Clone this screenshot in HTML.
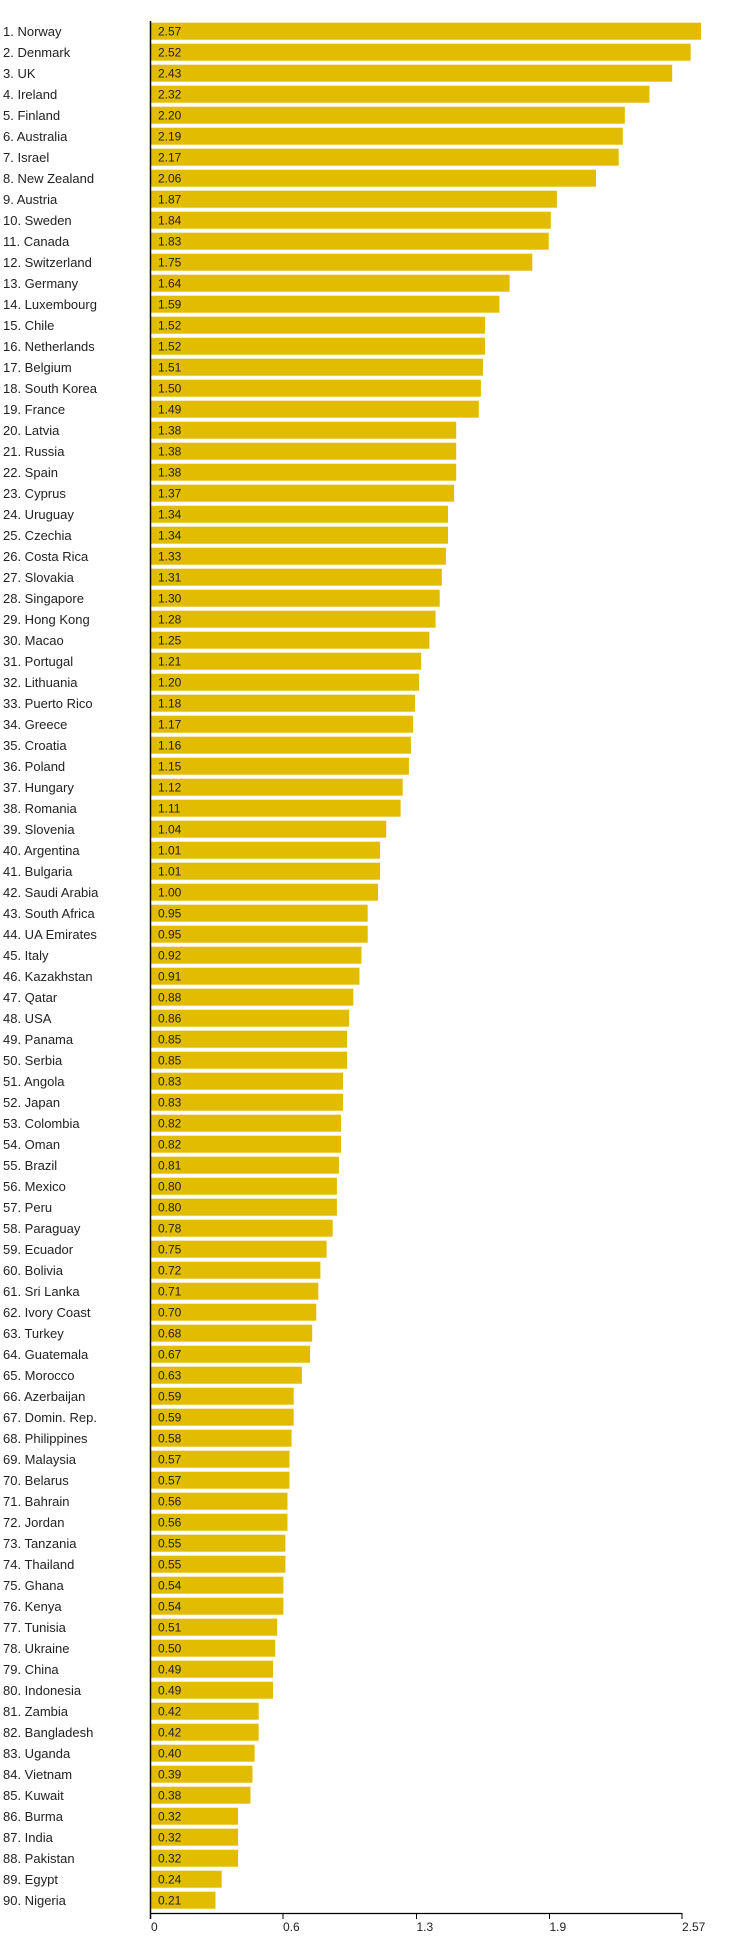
<!DOCTYPE html>
<html><head><meta charset="utf-8"><style>
html,body{margin:0;padding:0;background:#fff}
svg{display:block}
text{font-family:"Liberation Sans",Arial,sans-serif;fill:#222}
.l{font-size:13px}
.v{font-size:12px}
rect{fill:#e2bc00}
</style></head><body>
<svg width="750" height="1947" viewBox="0 0 750 1947" xmlns="http://www.w3.org/2000/svg">
<g transform="translate(0,22.7)"><text class="l" x="3" y="13.5">1. Norway</text><rect x="151" width="550" height="17"/><text class="v" x="158" y="13">2.57</text></g>
<g transform="translate(0,43.7)"><text class="l" x="3" y="13.5">2. Denmark</text><rect x="151" width="539.7" height="17"/><text class="v" x="158" y="13">2.52</text></g>
<g transform="translate(0,64.7)"><text class="l" x="3" y="13.5">3. UK</text><rect x="151" width="521.2" height="17"/><text class="v" x="158" y="13">2.43</text></g>
<g transform="translate(0,85.7)"><text class="l" x="3" y="13.5">4. Ireland</text><rect x="151" width="498.5" height="17"/><text class="v" x="158" y="13">2.32</text></g>
<g transform="translate(0,106.7)"><text class="l" x="3" y="13.5">5. Finland</text><rect x="151" width="473.8" height="17"/><text class="v" x="158" y="13">2.20</text></g>
<g transform="translate(0,127.7)"><text class="l" x="3" y="13.5">6. Australia</text><rect x="151" width="471.8" height="17"/><text class="v" x="158" y="13">2.19</text></g>
<g transform="translate(0,148.7)"><text class="l" x="3" y="13.5">7. Israel</text><rect x="151" width="467.7" height="17"/><text class="v" x="158" y="13">2.17</text></g>
<g transform="translate(0,169.7)"><text class="l" x="3" y="13.5">8. New Zealand</text><rect x="151" width="445" height="17"/><text class="v" x="158" y="13">2.06</text></g>
<g transform="translate(0,190.7)"><text class="l" x="3" y="13.5">9. Austria</text><rect x="151" width="405.9" height="17"/><text class="v" x="158" y="13">1.87</text></g>
<g transform="translate(0,211.7)"><text class="l" x="3" y="13.5">10. Sweden</text><rect x="151" width="399.8" height="17"/><text class="v" x="158" y="13">1.84</text></g>
<g transform="translate(0,232.7)"><text class="l" x="3" y="13.5">11. Canada</text><rect x="151" width="397.7" height="17"/><text class="v" x="158" y="13">1.83</text></g>
<g transform="translate(0,253.7)"><text class="l" x="3" y="13.5">12. Switzerland</text><rect x="151" width="381.3" height="17"/><text class="v" x="158" y="13">1.75</text></g>
<g transform="translate(0,274.7)"><text class="l" x="3" y="13.5">13. Germany</text><rect x="151" width="358.6" height="17"/><text class="v" x="158" y="13">1.64</text></g>
<g transform="translate(0,295.7)"><text class="l" x="3" y="13.5">14. Luxembourg</text><rect x="151" width="348.4" height="17"/><text class="v" x="158" y="13">1.59</text></g>
<g transform="translate(0,316.7)"><text class="l" x="3" y="13.5">15. Chile</text><rect x="151" width="334" height="17"/><text class="v" x="158" y="13">1.52</text></g>
<g transform="translate(0,337.7)"><text class="l" x="3" y="13.5">16. Netherlands</text><rect x="151" width="334" height="17"/><text class="v" x="158" y="13">1.52</text></g>
<g transform="translate(0,358.7)"><text class="l" x="3" y="13.5">17. Belgium</text><rect x="151" width="331.9" height="17"/><text class="v" x="158" y="13">1.51</text></g>
<g transform="translate(0,379.7)"><text class="l" x="3" y="13.5">18. South Korea</text><rect x="151" width="329.9" height="17"/><text class="v" x="158" y="13">1.50</text></g>
<g transform="translate(0,400.7)"><text class="l" x="3" y="13.5">19. France</text><rect x="151" width="327.8" height="17"/><text class="v" x="158" y="13">1.49</text></g>
<g transform="translate(0,421.7)"><text class="l" x="3" y="13.5">20. Latvia</text><rect x="151" width="305.2" height="17"/><text class="v" x="158" y="13">1.38</text></g>
<g transform="translate(0,442.7)"><text class="l" x="3" y="13.5">21. Russia</text><rect x="151" width="305.2" height="17"/><text class="v" x="158" y="13">1.38</text></g>
<g transform="translate(0,463.7)"><text class="l" x="3" y="13.5">22. Spain</text><rect x="151" width="305.2" height="17"/><text class="v" x="158" y="13">1.38</text></g>
<g transform="translate(0,484.7)"><text class="l" x="3" y="13.5">23. Cyprus</text><rect x="151" width="303.1" height="17"/><text class="v" x="158" y="13">1.37</text></g>
<g transform="translate(0,505.7)"><text class="l" x="3" y="13.5">24. Uruguay</text><rect x="151" width="297" height="17"/><text class="v" x="158" y="13">1.34</text></g>
<g transform="translate(0,526.7)"><text class="l" x="3" y="13.5">25. Czechia</text><rect x="151" width="297" height="17"/><text class="v" x="158" y="13">1.34</text></g>
<g transform="translate(0,547.7)"><text class="l" x="3" y="13.5">26. Costa Rica</text><rect x="151" width="294.9" height="17"/><text class="v" x="158" y="13">1.33</text></g>
<g transform="translate(0,568.7)"><text class="l" x="3" y="13.5">27. Slovakia</text><rect x="151" width="290.8" height="17"/><text class="v" x="158" y="13">1.31</text></g>
<g transform="translate(0,589.7)"><text class="l" x="3" y="13.5">28. Singapore</text><rect x="151" width="288.7" height="17"/><text class="v" x="158" y="13">1.30</text></g>
<g transform="translate(0,610.7)"><text class="l" x="3" y="13.5">29. Hong Kong</text><rect x="151" width="284.6" height="17"/><text class="v" x="158" y="13">1.28</text></g>
<g transform="translate(0,631.7)"><text class="l" x="3" y="13.5">30. Macao</text><rect x="151" width="278.4" height="17"/><text class="v" x="158" y="13">1.25</text></g>
<g transform="translate(0,652.7)"><text class="l" x="3" y="13.5">31. Portugal</text><rect x="151" width="270.2" height="17"/><text class="v" x="158" y="13">1.21</text></g>
<g transform="translate(0,673.7)"><text class="l" x="3" y="13.5">32. Lithuania</text><rect x="151" width="268.1" height="17"/><text class="v" x="158" y="13">1.20</text></g>
<g transform="translate(0,694.7)"><text class="l" x="3" y="13.5">33. Puerto Rico</text><rect x="151" width="264" height="17"/><text class="v" x="158" y="13">1.18</text></g>
<g transform="translate(0,715.7)"><text class="l" x="3" y="13.5">34. Greece</text><rect x="151" width="262" height="17"/><text class="v" x="158" y="13">1.17</text></g>
<g transform="translate(0,736.7)"><text class="l" x="3" y="13.5">35. Croatia</text><rect x="151" width="259.9" height="17"/><text class="v" x="158" y="13">1.16</text></g>
<g transform="translate(0,757.7)"><text class="l" x="3" y="13.5">36. Poland</text><rect x="151" width="257.9" height="17"/><text class="v" x="158" y="13">1.15</text></g>
<g transform="translate(0,778.7)"><text class="l" x="3" y="13.5">37. Hungary</text><rect x="151" width="251.7" height="17"/><text class="v" x="158" y="13">1.12</text></g>
<g transform="translate(0,799.7)"><text class="l" x="3" y="13.5">38. Romania</text><rect x="151" width="249.6" height="17"/><text class="v" x="158" y="13">1.11</text></g>
<g transform="translate(0,820.7)"><text class="l" x="3" y="13.5">39. Slovenia</text><rect x="151" width="235.2" height="17"/><text class="v" x="158" y="13">1.04</text></g>
<g transform="translate(0,841.7)"><text class="l" x="3" y="13.5">40. Argentina</text><rect x="151" width="229.1" height="17"/><text class="v" x="158" y="13">1.01</text></g>
<g transform="translate(0,862.7)"><text class="l" x="3" y="13.5">41. Bulgaria</text><rect x="151" width="229.1" height="17"/><text class="v" x="158" y="13">1.01</text></g>
<g transform="translate(0,883.7)"><text class="l" x="3" y="13.5">42. Saudi Arabia</text><rect x="151" width="227" height="17"/><text class="v" x="158" y="13">1.00</text></g>
<g transform="translate(0,904.7)"><text class="l" x="3" y="13.5">43. South Africa</text><rect x="151" width="216.7" height="17"/><text class="v" x="158" y="13">0.95</text></g>
<g transform="translate(0,925.7)"><text class="l" x="3" y="13.5">44. UA Emirates</text><rect x="151" width="216.7" height="17"/><text class="v" x="158" y="13">0.95</text></g>
<g transform="translate(0,946.7)"><text class="l" x="3" y="13.5">45. Italy</text><rect x="151" width="210.5" height="17"/><text class="v" x="158" y="13">0.92</text></g>
<g transform="translate(0,967.7)"><text class="l" x="3" y="13.5">46. Kazakhstan</text><rect x="151" width="208.5" height="17"/><text class="v" x="158" y="13">0.91</text></g>
<g transform="translate(0,988.7)"><text class="l" x="3" y="13.5">47. Qatar</text><rect x="151" width="202.3" height="17"/><text class="v" x="158" y="13">0.88</text></g>
<g transform="translate(0,1009.7)"><text class="l" x="3" y="13.5">48. USA</text><rect x="151" width="198.2" height="17"/><text class="v" x="158" y="13">0.86</text></g>
<g transform="translate(0,1030.7)"><text class="l" x="3" y="13.5">49. Panama</text><rect x="151" width="196.1" height="17"/><text class="v" x="158" y="13">0.85</text></g>
<g transform="translate(0,1051.7)"><text class="l" x="3" y="13.5">50. Serbia</text><rect x="151" width="196.1" height="17"/><text class="v" x="158" y="13">0.85</text></g>
<g transform="translate(0,1072.7)"><text class="l" x="3" y="13.5">51. Angola</text><rect x="151" width="192" height="17"/><text class="v" x="158" y="13">0.83</text></g>
<g transform="translate(0,1093.7)"><text class="l" x="3" y="13.5">52. Japan</text><rect x="151" width="192" height="17"/><text class="v" x="158" y="13">0.83</text></g>
<g transform="translate(0,1114.7)"><text class="l" x="3" y="13.5">53. Colombia</text><rect x="151" width="190" height="17"/><text class="v" x="158" y="13">0.82</text></g>
<g transform="translate(0,1135.7)"><text class="l" x="3" y="13.5">54. Oman</text><rect x="151" width="190" height="17"/><text class="v" x="158" y="13">0.82</text></g>
<g transform="translate(0,1156.7)"><text class="l" x="3" y="13.5">55. Brazil</text><rect x="151" width="187.9" height="17"/><text class="v" x="158" y="13">0.81</text></g>
<g transform="translate(0,1177.7)"><text class="l" x="3" y="13.5">56. Mexico</text><rect x="151" width="185.9" height="17"/><text class="v" x="158" y="13">0.80</text></g>
<g transform="translate(0,1198.7)"><text class="l" x="3" y="13.5">57. Peru</text><rect x="151" width="185.9" height="17"/><text class="v" x="158" y="13">0.80</text></g>
<g transform="translate(0,1219.7)"><text class="l" x="3" y="13.5">58. Paraguay</text><rect x="151" width="181.7" height="17"/><text class="v" x="158" y="13">0.78</text></g>
<g transform="translate(0,1240.7)"><text class="l" x="3" y="13.5">59. Ecuador</text><rect x="151" width="175.6" height="17"/><text class="v" x="158" y="13">0.75</text></g>
<g transform="translate(0,1261.7)"><text class="l" x="3" y="13.5">60. Bolivia</text><rect x="151" width="169.4" height="17"/><text class="v" x="158" y="13">0.72</text></g>
<g transform="translate(0,1282.7)"><text class="l" x="3" y="13.5">61. Sri Lanka</text><rect x="151" width="167.3" height="17"/><text class="v" x="158" y="13">0.71</text></g>
<g transform="translate(0,1303.7)"><text class="l" x="3" y="13.5">62. Ivory Coast</text><rect x="151" width="165.3" height="17"/><text class="v" x="158" y="13">0.70</text></g>
<g transform="translate(0,1324.7)"><text class="l" x="3" y="13.5">63. Turkey</text><rect x="151" width="161.2" height="17"/><text class="v" x="158" y="13">0.68</text></g>
<g transform="translate(0,1345.7)"><text class="l" x="3" y="13.5">64. Guatemala</text><rect x="151" width="159.1" height="17"/><text class="v" x="158" y="13">0.67</text></g>
<g transform="translate(0,1366.7)"><text class="l" x="3" y="13.5">65. Morocco</text><rect x="151" width="150.9" height="17"/><text class="v" x="158" y="13">0.63</text></g>
<g transform="translate(0,1387.7)"><text class="l" x="3" y="13.5">66. Azerbaijan</text><rect x="151" width="142.7" height="17"/><text class="v" x="158" y="13">0.59</text></g>
<g transform="translate(0,1408.7)"><text class="l" x="3" y="13.5">67. Domin. Rep.</text><rect x="151" width="142.7" height="17"/><text class="v" x="158" y="13">0.59</text></g>
<g transform="translate(0,1429.7)"><text class="l" x="3" y="13.5">68. Philippines</text><rect x="151" width="140.6" height="17"/><text class="v" x="158" y="13">0.58</text></g>
<g transform="translate(0,1450.7)"><text class="l" x="3" y="13.5">69. Malaysia</text><rect x="151" width="138.5" height="17"/><text class="v" x="158" y="13">0.57</text></g>
<g transform="translate(0,1471.7)"><text class="l" x="3" y="13.5">70. Belarus</text><rect x="151" width="138.5" height="17"/><text class="v" x="158" y="13">0.57</text></g>
<g transform="translate(0,1492.7)"><text class="l" x="3" y="13.5">71. Bahrain</text><rect x="151" width="136.5" height="17"/><text class="v" x="158" y="13">0.56</text></g>
<g transform="translate(0,1513.7)"><text class="l" x="3" y="13.5">72. Jordan</text><rect x="151" width="136.5" height="17"/><text class="v" x="158" y="13">0.56</text></g>
<g transform="translate(0,1534.7)"><text class="l" x="3" y="13.5">73. Tanzania</text><rect x="151" width="134.4" height="17"/><text class="v" x="158" y="13">0.55</text></g>
<g transform="translate(0,1555.7)"><text class="l" x="3" y="13.5">74. Thailand</text><rect x="151" width="134.4" height="17"/><text class="v" x="158" y="13">0.55</text></g>
<g transform="translate(0,1576.7)"><text class="l" x="3" y="13.5">75. Ghana</text><rect x="151" width="132.4" height="17"/><text class="v" x="158" y="13">0.54</text></g>
<g transform="translate(0,1597.7)"><text class="l" x="3" y="13.5">76. Kenya</text><rect x="151" width="132.4" height="17"/><text class="v" x="158" y="13">0.54</text></g>
<g transform="translate(0,1618.7)"><text class="l" x="3" y="13.5">77. Tunisia</text><rect x="151" width="126.2" height="17"/><text class="v" x="158" y="13">0.51</text></g>
<g transform="translate(0,1639.7)"><text class="l" x="3" y="13.5">78. Ukraine</text><rect x="151" width="124.2" height="17"/><text class="v" x="158" y="13">0.50</text></g>
<g transform="translate(0,1660.7)"><text class="l" x="3" y="13.5">79. China</text><rect x="151" width="122.1" height="17"/><text class="v" x="158" y="13">0.49</text></g>
<g transform="translate(0,1681.7)"><text class="l" x="3" y="13.5">80. Indonesia</text><rect x="151" width="122.1" height="17"/><text class="v" x="158" y="13">0.49</text></g>
<g transform="translate(0,1702.7)"><text class="l" x="3" y="13.5">81. Zambia</text><rect x="151" width="107.7" height="17"/><text class="v" x="158" y="13">0.42</text></g>
<g transform="translate(0,1723.7)"><text class="l" x="3" y="13.5">82. Bangladesh</text><rect x="151" width="107.7" height="17"/><text class="v" x="158" y="13">0.42</text></g>
<g transform="translate(0,1744.7)"><text class="l" x="3" y="13.5">83. Uganda</text><rect x="151" width="103.6" height="17"/><text class="v" x="158" y="13">0.40</text></g>
<g transform="translate(0,1765.7)"><text class="l" x="3" y="13.5">84. Vietnam</text><rect x="151" width="101.5" height="17"/><text class="v" x="158" y="13">0.39</text></g>
<g transform="translate(0,1786.7)"><text class="l" x="3" y="13.5">85. Kuwait</text><rect x="151" width="99.5" height="17"/><text class="v" x="158" y="13">0.38</text></g>
<g transform="translate(0,1807.7)"><text class="l" x="3" y="13.5">86. Burma</text><rect x="151" width="87.1" height="17"/><text class="v" x="158" y="13">0.32</text></g>
<g transform="translate(0,1828.7)"><text class="l" x="3" y="13.5">87. India</text><rect x="151" width="87.1" height="17"/><text class="v" x="158" y="13">0.32</text></g>
<g transform="translate(0,1849.7)"><text class="l" x="3" y="13.5">88. Pakistan</text><rect x="151" width="87.1" height="17"/><text class="v" x="158" y="13">0.32</text></g>
<g transform="translate(0,1870.7)"><text class="l" x="3" y="13.5">89. Egypt</text><rect x="151" width="70.7" height="17"/><text class="v" x="158" y="13">0.24</text></g>
<g transform="translate(0,1891.7)"><text class="l" x="3" y="13.5">90. Nigeria</text><rect x="151" width="64.5" height="17"/><text class="v" x="158" y="13">0.21</text></g>
<line x1="150.5" y1="21" x2="150.5" y2="1919" stroke="#000" stroke-width="1.5"/>
<line x1="150" y1="1913.5" x2="682" y2="1913.5" stroke="#000" stroke-width="1.2"/>
<g stroke="#000" stroke-width="1">
<line x1="150.5" y1="1913" x2="150.5" y2="1919"/>
<line x1="283" y1="1913" x2="283" y2="1919"/>
<line x1="416.5" y1="1913" x2="416.5" y2="1919"/>
<line x1="549.5" y1="1913" x2="549.5" y2="1919"/>
<line x1="682" y1="1913" x2="682" y2="1919"/>
</g>
<g class="v">
<text class="v" x="151" y="1931">0</text>
<text class="v" x="283" y="1931">0.6</text>
<text class="v" x="416.5" y="1931">1.3</text>
<text class="v" x="549.5" y="1931">1.9</text>
<text class="v" x="682" y="1931">2.57</text>
</g>
</svg>
</body></html>
